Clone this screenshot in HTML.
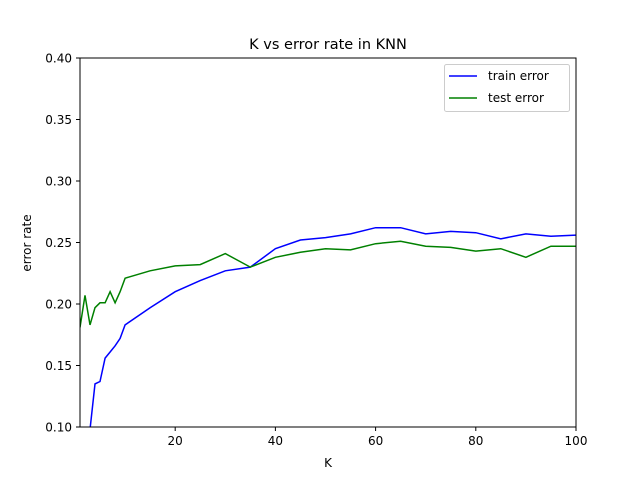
<!DOCTYPE html>
<html><head><meta charset="utf-8"><style>
html,body{margin:0;padding:0;background:#fff;width:640px;height:480px;overflow:hidden;font-family:"Liberation Sans","DejaVu Sans",sans-serif}
svg{display:block;overflow:hidden}
svg text{font-family:"DejaVu Sans","Liberation Sans",sans-serif}
</style></head><body>
<svg id="c" width="640" height="480" xmlns="http://www.w3.org/2000/svg">
<rect width="640" height="480" fill="#fff"/>
<text x="328" y="49" font-size="14.5" text-anchor="middle">K vs error rate in KNN</text>
<text x="328" y="467" font-size="12" text-anchor="middle">K</text>
<text transform="translate(31,243) rotate(-90)" font-size="12" text-anchor="middle">error rate</text>
<g id="ticks"></g>
<defs><clipPath id="pa"><rect x="80" y="58" width="496" height="369"/></clipPath></defs>
<g id="lines" clip-path="url(#pa)"></g>
<rect x="80" y="58" width="496" height="369" fill="none" stroke="#000" stroke-width="1"/>
<g>
<rect x="444.5" y="64.5" width="125" height="47" fill="#fff" stroke="#ccc" rx="2"/>
<line x1="449" y1="76" x2="477" y2="76" stroke="#0000ff" stroke-width="1.5"/>
<text x="488" y="80" font-size="12">train error</text>
<line x1="449" y1="98" x2="477" y2="98" stroke="#008000" stroke-width="1.5"/>
<text x="488" y="102" font-size="12">test error</text>
</g>
</svg>
<script>
const kValues=[1,2,3,4,5,6,7,8,9,10,15,20,25,30,35,40,45,50,55,60,65,70,75,80,85,90,95,100];
const trainError=[0,0.05,0.098,0.135,0.137,0.156,0.161,0.166,0.172,0.183,0.197,0.21,0.219,0.227,0.23,0.245,0.252,0.254,0.257,0.262,0.262,0.257,0.259,0.258,0.253,0.257,0.255,0.256];
const testError=[0.181,0.207,0.183,0.197,0.201,0.201,0.21,0.201,0.21,0.221,0.227,0.231,0.232,0.241,0.23,0.238,0.242,0.245,0.244,0.249,0.251,0.247,0.246,0.243,0.245,0.238,0.247,0.247];
const xTicks=[20,40,60,80,100];
const yTicks=[0.10,0.15,0.20,0.25,0.30,0.35,0.40];
const NS="http://www.w3.org/2000/svg";
const xs=k=>80+(k-1)*(496/99);
const ys=v=>427-(Math.max(v,0.08)-0.1)*(369/0.3);
const tg=document.getElementById('ticks');
xTicks.forEach(t=>{
 const l=document.createElementNS(NS,'line');
 l.setAttribute('x1',xs(t));l.setAttribute('x2',xs(t));l.setAttribute('y1',427);l.setAttribute('y2',431);l.setAttribute('stroke','#000');
 
 
 tg.appendChild(l);
 const tx=document.createElementNS(NS,'text');
 tx.setAttribute('x',xs(t));tx.setAttribute('y',445);tx.setAttribute('font-size','12');tx.setAttribute('text-anchor','middle');
 tx.textContent=t;
 
 
 tg.appendChild(tx);
});
yTicks.forEach(t=>{
 const l=document.createElementNS(NS,'line');
 l.setAttribute('x1',76);l.setAttribute('x2',80);l.setAttribute('y1',ys(t));l.setAttribute('y2',ys(t));l.setAttribute('stroke','#000');
 
 
 tg.appendChild(l);
 const tx=document.createElementNS(NS,'text');
 tx.setAttribute('x',72);tx.setAttribute('y',ys(t)+4.5);tx.setAttribute('font-size','12');tx.setAttribute('text-anchor','end');
 tx.textContent=t.toFixed(2);
 
 
 tg.appendChild(tx);
});
const lg=document.getElementById('lines');
function line(vals,color,name){
 const p=document.createElementNS(NS,'polyline');
 p.setAttribute('points',kValues.map((k,i)=>xs(k).toFixed(1)+','+ys(vals[i]).toFixed(1)).join(' '));
 p.setAttribute('fill','none');p.setAttribute('stroke',color);p.setAttribute('stroke-width','1.5');
 
 
 lg.appendChild(p);
}
line(trainError,'#0000ff','train-error-line');
line(testError,'#008000','test-error-line');
</script>
</body></html>
